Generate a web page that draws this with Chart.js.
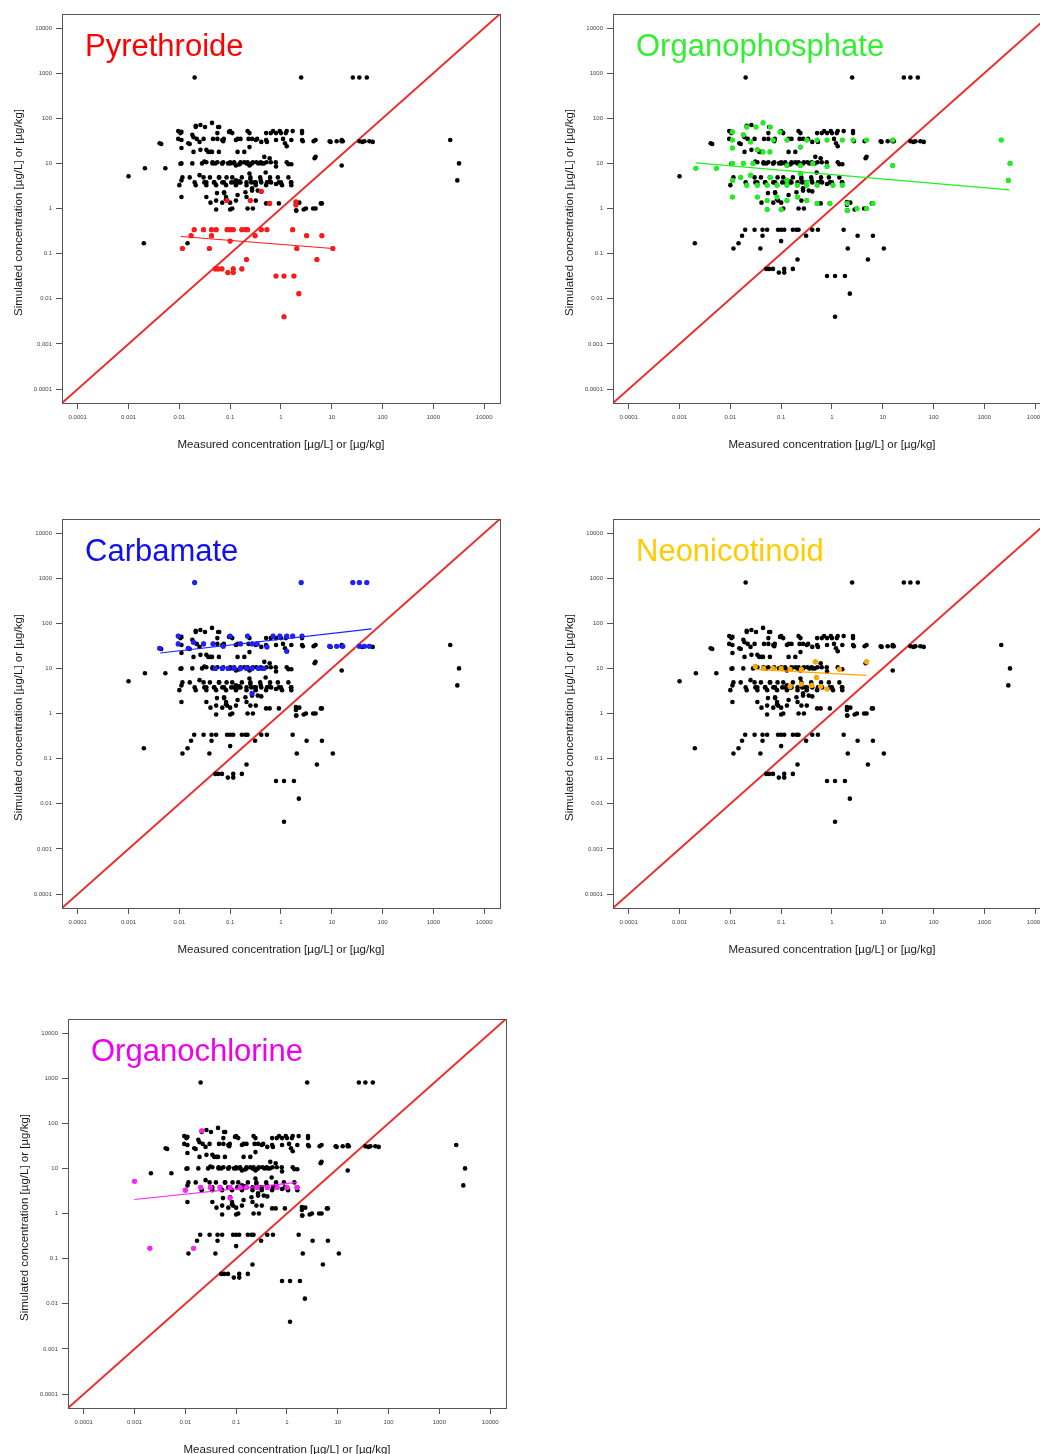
<!DOCTYPE html>
<html>
<head>
<meta charset="utf-8">
<script src="https://cdn.jsdelivr.net/npm/chart.js@4.4.0/dist/chart.umd.min.js"></script>
<style>
  html, body { margin: 0; padding: 0; background: #fff; overflow: hidden; }
  #page { position: relative; width: 1040px; height: 1454px; overflow: hidden; }
  #page canvas { position: absolute; }
</style>
</head>
<body>
<div id="page">
  <canvas id="c1" width="510" height="460" style="left:0px;top:0px"></canvas>
  <canvas id="c2" width="510" height="460" style="left:551px;top:0px"></canvas>
  <canvas id="c3" width="510" height="460" style="left:0px;top:505px"></canvas>
  <canvas id="c4" width="510" height="460" style="left:551px;top:505px"></canvas>
  <canvas id="c5" width="510" height="460" style="left:6px;top:1005px"></canvas>
</div>
<script>
// axis ticks (log scale, both axes)
const tickValues = [0.0001, 0.001, 0.01, 0.1, 1, 10, 100, 1000, 10000];
const tickLabels = ['0.0001', '0.001', '0.01', '0.1', '1', '10', '100', '1000', '10000'];
const axisMin = 4.9e-5;
const axisMax = 2.05e4;

const xTitle = 'Measured concentration [µg/L] or [µg/kg]';
const yTitle = 'Simulated concentration [µg/L] or [µg/kg]';

// [measured, simulated] per substance class
const pyrethroide = [
  [0.0196, 0.34], [0.030, 0.34], [0.043, 0.34], [0.053, 0.34], [0.087, 0.34], [0.10, 0.34],
  [0.115, 0.34], [0.17, 0.34], [0.20, 0.34], [0.22, 0.34], [0.41, 0.34], [0.53, 0.34], [1.7, 0.34],
  [0.017, 0.25], [0.043, 0.25], [0.31, 0.25], [3.2, 0.25], [6.4, 0.25],
  [0.10, 0.19],
  [0.0115, 0.13], [0.039, 0.13], [2.05, 0.13], [10.5, 0.13],
  [0.21, 0.074], [5.1, 0.074],
  [0.051, 0.046], [0.058, 0.046], [0.069, 0.046], [0.115, 0.046], [0.17, 0.046],
  [0.09, 0.038], [0.115, 0.038],
  [0.8, 0.032], [1.15, 0.032], [1.8, 0.032],
  [2.25, 0.013], [1.15, 0.004],
  [0.087, 1.5], [0.25, 1.5], [0.41, 2.4], [0.6, 1.3], [1.97, 1.4], [1.97, 1.2]
];
const pyrethroideTrend = [[0.0107, 0.24], [10.5, 0.13]];

const organophosphate = [
  [0.011, 50], [0.011, 33], [0.011, 22], [0.011, 10], [0.011, 4.2], [0.011, 1.8],
  [0.0021, 7.8], [0.0053, 7.8],
  [0.021, 64], [0.032, 64], [0.044, 79], [0.061, 64], [0.018, 43], [0.025, 30], [0.034, 20],
  [0.044, 18], [0.06, 18], [0.07, 33], [0.095, 50], [0.13, 33], [0.24, 23], [0.32, 33],
  [0.51, 33], [0.8, 33], [1.6, 33], [2.6, 33], [4.8, 33], [15.7, 33], [15.7, 9],
  [2150, 33], [3200, 10], [2960, 4.2],
  [0.021, 3.3], [0.034, 3.3], [0.053, 3.3], [0.083, 3.3], [0.13, 3.3], [0.21, 3.3],
  [0.32, 3.3], [0.51, 3.3], [1.05, 3.3], [1.6, 3.3],
  [0.034, 1.8], [0.053, 1.5], [0.083, 1.8], [0.13, 1.5], [0.21, 1.8], [0.32, 1.5],
  [0.51, 1.3], [0.91, 1.3], [2.0, 1.3], [3.1, 1.0], [4.8, 1.0], [6.4, 1.3],
  [0.053, 0.95], [0.1, 0.95], [2.0, 0.9],
  [0.018, 10], [0.028, 10], [0.13, 9], [0.24, 9], [0.42, 10], [0.8, 8.6],
  [0.016, 4.9], [0.025, 5.5], [0.061, 4.9], [0.13, 4.2], [0.24, 6], [0.32, 3.8]
];
const organophosphateTrend = [[0.0021, 10.3], [3100, 2.6]];

const carbamate = [
  [0.020, 800], [2.5, 800], [26, 800], [35, 800], [49, 800],
  [0.0041, 28], [0.0095, 52], [0.0095, 35], [0.015, 28], [0.019, 38], [0.03, 35],
  [0.046, 35], [0.073, 31], [0.1, 52], [0.16, 35], [0.22, 52], [0.27, 35], [0.34, 35],
  [0.53, 30], [0.7, 52], [0.95, 52], [1.3, 52], [1.7, 52], [1.3, 24], [2.6, 52],
  [9.1, 31], [12.5, 31], [16.5, 31], [35, 31], [44, 31], [55, 31],
  [0.051, 10], [0.07, 10], [0.091, 10], [0.12, 10], [0.16, 10], [0.21, 10],
  [0.27, 10], [0.36, 10], [0.46, 10],
  [0.27, 2.8]
];
const carbamateTrend = [[0.0042, 22], [61, 75]];

const neonicotinoid = [
  [0.031, 11], [0.045, 10], [0.07, 10], [0.1, 10], [0.15, 9.5], [0.25, 9.5], [0.47, 14],
  [1.4, 9.6], [4.8, 14], [0.5, 6.3], [0.15, 4], [0.25, 4.5], [0.4, 4.2], [0.6, 4], [0.8, 3.5]
];
const neonicotinoidTrend = [[0.031, 9.5], [4.8, 7]];

const organochlorine = [
  [0.001, 5.2], [0.002, 0.17], [0.0145, 0.17], [0.021, 68], [0.01, 3.3], [0.076, 2.2],
  [0.02, 3.8], [0.031, 3.8], [0.048, 3.8], [0.076, 3.8], [0.12, 3.8], [0.16, 3.8],
  [0.26, 3.8], [0.41, 3.8], [0.64, 3.8], [1.0, 3.8], [1.57, 3.8]
];
const organochlorineTrend = [[0.001, 2.05], [1.6, 4.9]];

// substances that belong to none of the five classes (black in every panel)
const otherSubstances = [
  [0.0044, 27], [0.0105, 47], [0.016, 27], [0.022, 35], [0.026, 71], [0.058, 64],
  [0.056, 47], [0.11, 47], [0.24, 47], [0.51, 47], [0.63, 47], [0.8, 47], [1.0, 47], [1.25, 47], [2.6, 47],
  [0.056, 35], [0.075, 35], [0.14, 35], [0.23, 35], [0.41, 30], [1.1, 35], [1.2, 28], [2.7, 31],
  [4.4, 31], [9.5, 30], [15.7, 31], [40, 30], [64, 30],
  [0.019, 18], [0.026, 20], [0.037, 18], [0.041, 18], [0.14, 18], [0.19, 18],
  [4.6, 13], [0.6, 13],
  [0.034, 10.6], [0.045, 10.6], [0.056, 10.6], [0.073, 10.6], [0.1, 10.6], [0.12, 10.6], [0.16, 10.6],
  [0.19, 10.6], [0.22, 10.6], [0.28, 10.6], [0.33, 10.6], [0.4, 10.6], [0.52, 10.6], [0.63, 10.6],
  [0.79, 10.6], [1.3, 10.6], [1.6, 9.6], [0.0105, 9.8],
  [0.034, 3.8], [0.049, 3.8], [0.07, 3.8], [0.105, 3.8], [0.13, 3.8], [0.15, 3.8], [0.21, 3.8],
  [0.3, 3.8], [0.53, 3.8], [0.91, 3.8], [1.6, 3.8],
  [0.0115, 4.9], [0.03, 4.9], [0.04, 4.9], [0.06, 4.9], [0.085, 4.9], [0.11, 4.9], [0.17, 4.9],
  [0.25, 4.9], [0.39, 4.9], [0.61, 4.9], [0.87, 4.9], [1.4, 4.9],
  [0.076, 2.3], [0.27, 2.5], [0.083, 1.6], [0.35, 2.5], [2.3, 1.35], [0.055, 2.2], [0.14, 2.0], [0.2, 2.3],
  [0.11, 1.0], [0.22, 1.0], [0.28, 1.0], [2.0, 0.9], [2.8, 0.95], [4.3, 1.0], [6.1, 1.3],
  [0.07, 1.35], [0.041, 1.35], [0.1, 1.35]
];

const allPoints = [
  ...otherSubstances, ...pyrethroide, ...organophosphate,
  ...carbamate, ...neonicotinoid, ...organochlorine
];

const toXY = (arr) => arr.map(([x, y]) => ({ x, y }));

// frame, panel name and axis titles
const panelDecor = {
  id: 'panelDecor',
  afterDraw(chart, args, opts) {
    const { ctx, chartArea: a } = chart;
    ctx.save();
    ctx.strokeStyle = '#555';
    ctx.lineWidth = 1;
    ctx.strokeRect(a.left + 0.5, a.top + 0.5, a.right - a.left, a.bottom - a.top);

    ctx.fillStyle = opts.color;
    ctx.font = '31px "Liberation Sans", Arial, sans-serif';
    ctx.textAlign = 'left';
    ctx.fillText(opts.name, a.left + 23, a.top + 42);

    ctx.fillStyle = '#1a1a1a';
    ctx.font = '11.5px "Liberation Sans", Arial, sans-serif';
    ctx.textAlign = 'center';
    ctx.fillText(xTitle, (a.left + a.right) / 2, a.bottom + 45);
    ctx.translate(22, (a.top + a.bottom) / 2 + 4);
    ctx.rotate(-Math.PI / 2);
    ctx.fillText(yTitle, 0, 0);
    ctx.restore();
  }
};

function logAxis(isX) {
  return {
    type: 'logarithmic',
    min: axisMin,
    max: axisMax,
    afterBuildTicks: (s) => { s.ticks = tickValues.map((v) => ({ value: v })); },
    afterFit: (s) => { if (isX) s.height = 57; else s.width = 62; },
    ticks: {
      callback: (v, i) => tickLabels[i],
      font: { size: 6, family: '"Liberation Sans", Arial, sans-serif' },
      color: '#444',
      autoSkip: false,
      maxRotation: 0,
      padding: isX ? 5 : 4,
    },
    grid: { drawOnChartArea: false, tickLength: 6, color: '#555' },
    border: { display: false },
  };
}

function makePanel(id, name, titleColor, pointColor, points, trend) {
  new Chart(document.getElementById(id), {
    type: 'scatter',
    data: {
      datasets: [
        {
          data: toXY(trend),
          showLine: true,
          borderColor: pointColor,
          borderWidth: 1.2,
          pointRadius: 0,
          order: 1,
        },
        {
          data: toXY(points),
          backgroundColor: pointColor,
          borderWidth: 0,
          pointRadius: 2.6,
          order: 2,
        },
        {
          data: toXY(allPoints),
          backgroundColor: '#000',
          borderWidth: 0,
          pointRadius: 2.3,
          order: 3,
        },
        {
          // 1:1 line
          data: [{ x: axisMin, y: axisMin }, { x: axisMax, y: axisMax }],
          showLine: true,
          borderColor: '#ee2b2b',
          borderWidth: 2,
          pointRadius: 0,
          order: 4,
        },
      ],
    },
    options: {
      responsive: false,
      animation: false,
      events: [],
      layout: { padding: { left: 0, top: 14, right: 10, bottom: 0 } },
      plugins: {
        legend: { display: false },
        tooltip: { enabled: false },
        panelDecor: { name, color: titleColor },
      },
      scales: { x: logAxis(true), y: logAxis(false) },
    },
    plugins: [panelDecor],
  });
}

makePanel('c1', 'Pyrethroide', '#ff0000', '#ff1a1a', pyrethroide, pyrethroideTrend);
makePanel('c2', 'Organophosphate', '#33ee33', '#22ee22', organophosphate, organophosphateTrend);
makePanel('c3', 'Carbamate', '#1010ee', '#1f1fff', carbamate, carbamateTrend);
makePanel('c4', 'Neonicotinoid', '#ffcc00', '#ffa800', neonicotinoid, neonicotinoidTrend);
makePanel('c5', 'Organochlorine', '#ee00ee', '#ff22ff', organochlorine, organochlorineTrend);
</script>
</body>
</html>
